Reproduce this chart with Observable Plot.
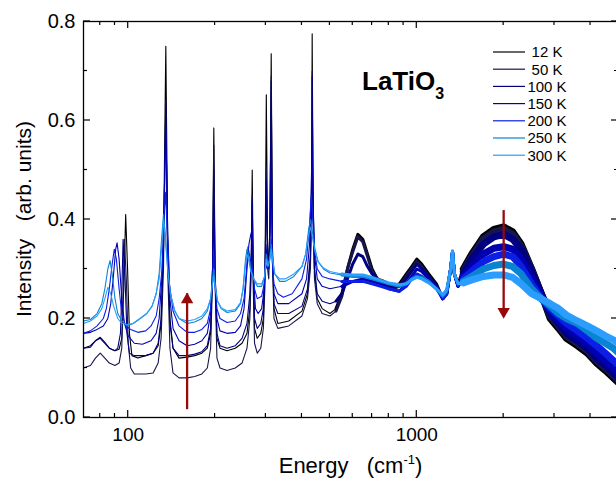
<!DOCTYPE html>
<html><head><meta charset="utf-8">
<script src="https://cdn.jsdelivr.net/npm/d3@7"></script>
<script src="https://cdn.jsdelivr.net/npm/@observablehq/plot@0.6"></script>
<style>
body{margin:0;background:#fff;font-family:"Liberation Sans",Arial,sans-serif;}
#chart{width:616px;height:481px;overflow:hidden}
</style></head><body><div id="chart"></div>
<script>
const temps = ["12 K","50 K","100 K","150 K","200 K","250 K","300 K"];
const colors = ["#000000","#16164c","#000080","#0000b0","#0a1ee6","#0a84d0","#2a9dff"];

const s12 = [[70,0.14],[74,0.145],[77,0.155],[80,0.162],[83,0.152],[86,0.14],[90,0.135],[93,0.138],[95,0.16],[96.5,0.26],[98,0.41],[99.5,0.30],[101,0.17],[103,0.125],[108,0.12],[115,0.125],[122,0.13],[127,0.145],[130,0.19],[132.5,0.34],[135,0.75],[137,0.36],[139.5,0.2],[143,0.14],[150,0.12],[160,0.122],[170,0.125],[180,0.13],[188,0.14],[193,0.17],[196,0.30],[198,0.585],[200,0.30],[203,0.16],[208,0.14],[220,0.135],[235,0.14],[248,0.15],[258,0.17],[264,0.22],[267,0.33],[269,0.50],[271,0.30],[274,0.18],[280,0.16],[288,0.17],[294,0.2],[298,0.3],[301,0.652],[304,0.35],[307,0.3],[310,0.4],[313,0.735],[316,0.35],[320,0.22],[330,0.19],[360,0.195],[400,0.215],[418,0.25],[428,0.32],[432,0.45],[434,0.775],[437,0.45],[442,0.3],[452,0.24],[470,0.22],[500,0.21],[525,0.22],[550,0.25],[575,0.3],[600,0.34],[625,0.37],[650,0.36],[675,0.33],[700,0.3],[730,0.28],[770,0.275],[820,0.265],[870,0.27],[920,0.29],[960,0.305],[1000,0.32],[1040,0.31],[1100,0.29],[1170,0.27],[1230,0.24],[1270,0.255],[1310,0.3],[1330,0.335],[1350,0.29],[1390,0.27],[1450,0.3],[1550,0.33],[1700,0.365],[1850,0.38],[2000,0.385],[2150,0.375],[2300,0.35],[2500,0.30],[2700,0.25],[2900,0.20],[3100,0.18],[3300,0.16],[3600,0.145],[3900,0.13],[4200,0.11],[4500,0.095],[4800,0.08],[5000,0.07]];

const s50 = [[70,0.10],[74,0.105],[77,0.12],[80,0.13],[83,0.12],[86,0.11],[90,0.105],[93,0.11],[95,0.14],[96,0.25],[97,0.36],[98.5,0.28],[100,0.15],[102,0.1],[105,0.088],[115,0.088],[122,0.09],[127,0.11],[130,0.16],[132.5,0.3],[135,0.64],[137,0.3],[139.5,0.14],[143,0.09],[150,0.08],[160,0.08],[170,0.083],[180,0.088],[188,0.1],[193,0.14],[196,0.28],[198,0.55],[200,0.27],[203,0.12],[208,0.1],[220,0.095],[235,0.1],[248,0.11],[258,0.14],[264,0.2],[267,0.3],[269,0.45],[271,0.27],[274,0.15],[280,0.13],[288,0.14],[294,0.18],[298,0.27],[301,0.51],[304,0.3],[307,0.28],[310,0.38],[313,0.69],[316,0.32],[320,0.2],[330,0.18],[360,0.185],[400,0.205],[418,0.24],[428,0.3],[432,0.42],[434,0.70],[437,0.42],[442,0.28],[452,0.23],[470,0.21],[500,0.205],[525,0.215],[550,0.245],[575,0.3],[600,0.335],[625,0.365],[650,0.355],[675,0.325],[700,0.295],[730,0.28],[770,0.27],[820,0.26],[870,0.265],[920,0.285],[960,0.3],[1000,0.315],[1040,0.305],[1100,0.285],[1170,0.265],[1230,0.24],[1270,0.25],[1310,0.3],[1330,0.335],[1350,0.29],[1390,0.265],[1450,0.295],[1550,0.325],[1700,0.36],[1850,0.375],[2000,0.38],[2150,0.37],[2300,0.345],[2500,0.30],[2700,0.25],[2900,0.205],[3100,0.185],[3300,0.165],[3600,0.15],[3900,0.135],[4200,0.115],[4500,0.1],[4800,0.085],[5000,0.075]];

const s100 = [[70,0.14],[74,0.142],[77,0.155],[80,0.16],[83,0.15],[86,0.14],[90,0.135],[92,0.14],[94,0.17],[95,0.25],[96,0.36],[97.5,0.28],[99,0.17],[101,0.13],[105,0.125],[115,0.125],[122,0.13],[127,0.15],[130,0.2],[132.5,0.34],[135,0.635],[137,0.33],[139.5,0.19],[143,0.14],[150,0.125],[160,0.125],[170,0.128],[180,0.133],[188,0.145],[193,0.18],[196,0.3],[198,0.50],[200,0.28],[203,0.17],[208,0.145],[220,0.14],[235,0.145],[248,0.16],[258,0.19],[264,0.25],[267,0.33],[269,0.44],[271,0.3],[274,0.2],[280,0.18],[288,0.19],[294,0.22],[298,0.3],[301,0.48],[304,0.32],[307,0.3],[310,0.4],[313,0.68],[316,0.34],[320,0.23],[330,0.21],[360,0.21],[400,0.225],[418,0.26],[428,0.33],[432,0.45],[434,0.69],[437,0.44],[442,0.3],[452,0.25],[470,0.235],[500,0.23],[525,0.235],[550,0.25],[575,0.28],[600,0.31],[625,0.33],[650,0.325],[675,0.305],[700,0.29],[730,0.28],[770,0.27],[820,0.262],[870,0.265],[920,0.28],[960,0.295],[1000,0.31],[1040,0.3],[1100,0.285],[1170,0.265],[1230,0.24],[1270,0.25],[1310,0.3],[1330,0.335],[1350,0.29],[1390,0.265],[1450,0.29],[1550,0.32],[1700,0.35],[1850,0.365],[2000,0.37],[2150,0.36],[2300,0.34],[2500,0.295],[2700,0.25],[2900,0.21],[3100,0.19],[3300,0.17],[3600,0.155],[3900,0.14],[4200,0.12],[4500,0.105],[4800,0.09],[5000,0.08]];

const s150 = [[70,0.17],[74,0.172],[78,0.178],[82,0.185],[85,0.2],[87,0.23],[89,0.29],[90.5,0.34],[91.5,0.353],[93,0.32],[95,0.24],[97,0.19],[100,0.165],[105,0.15],[112,0.148],[120,0.155],[125,0.17],[128,0.2],[131,0.29],[133,0.42],[135,0.59],[137,0.38],[139.5,0.24],[143,0.18],[150,0.155],[160,0.145],[170,0.148],[180,0.155],[188,0.17],[193,0.21],[196,0.3],[198,0.40],[200,0.29],[203,0.2],[208,0.175],[220,0.17],[235,0.172],[245,0.185],[252,0.22],[258,0.3],[262,0.35],[266,0.37],[269,0.38],[272,0.28],[276,0.22],[282,0.21],[290,0.22],[296,0.26],[300,0.35],[303,0.32],[307,0.31],[310,0.36],[313,0.50],[316,0.33],[320,0.25],[330,0.23],[360,0.23],[400,0.25],[415,0.28],[425,0.35],[430,0.45],[434,0.55],[437,0.44],[442,0.33],[452,0.28],[470,0.265],[500,0.26],[550,0.265],[600,0.275],[650,0.28],[700,0.275],[750,0.27],[800,0.26],[870,0.255],[920,0.27],[960,0.285],[1000,0.30],[1040,0.295],[1100,0.28],[1170,0.265],[1230,0.24],[1270,0.25],[1310,0.3],[1330,0.335],[1350,0.29],[1390,0.265],[1450,0.285],[1550,0.305],[1700,0.33],[1850,0.342],[2000,0.345],[2150,0.34],[2300,0.32],[2500,0.28],[2700,0.245],[2900,0.215],[3100,0.195],[3300,0.18],[3600,0.165],[3900,0.15],[4200,0.13],[4500,0.115],[4800,0.1],[5000,0.09]];

const s200 = [[70,0.17],[74,0.175],[78,0.185],[82,0.2],[84,0.22],[86,0.26],[88,0.31],[89.5,0.34],[91,0.32],[93,0.26],[95,0.21],[98,0.185],[102,0.178],[108,0.172],[115,0.175],[120,0.185],[125,0.205],[128,0.24],[131,0.3],[133,0.4],[134.5,0.455],[136.5,0.38],[139,0.27],[143,0.215],[150,0.185],[160,0.172],[170,0.172],[180,0.178],[188,0.19],[193,0.22],[196,0.27],[198,0.33],[200,0.27],[203,0.22],[208,0.2],[220,0.192],[235,0.195],[245,0.21],[252,0.24],[257,0.3],[260,0.345],[263,0.33],[267,0.31],[270,0.3],[274,0.26],[280,0.24],[290,0.245],[296,0.27],[300,0.31],[303,0.30],[308,0.31],[313,0.36],[316,0.31],[320,0.27],[330,0.25],[345,0.243],[370,0.25],[400,0.28],[415,0.32],[425,0.39],[431,0.45],[436,0.40],[442,0.34],[452,0.3],[470,0.285],[500,0.28],[550,0.275],[600,0.275],[650,0.275],[700,0.27],[750,0.265],[800,0.26],[870,0.255],[920,0.265],[960,0.28],[1000,0.29],[1040,0.285],[1100,0.275],[1170,0.26],[1230,0.24],[1270,0.25],[1310,0.3],[1330,0.335],[1350,0.29],[1390,0.265],[1450,0.28],[1550,0.295],[1700,0.315],[1850,0.325],[2000,0.33],[2150,0.325],[2300,0.305],[2500,0.27],[2700,0.24],[2900,0.22],[3100,0.205],[3300,0.19],[3600,0.175],[3900,0.16],[4200,0.145],[4500,0.13],[4800,0.115],[5000,0.105]];

const s250 = [[70,0.195],[74,0.198],[78,0.21],[81,0.23],[83,0.26],[85,0.3],[86.5,0.317],[88,0.29],[90,0.24],[92,0.21],[95,0.195],[99,0.185],[104,0.19],[110,0.2],[116,0.21],[121,0.225],[125,0.25],[128,0.29],[130.5,0.36],[132.5,0.41],[134.5,0.37],[137,0.3],[140,0.25],[145,0.215],[150,0.2],[160,0.19],[170,0.193],[180,0.2],[188,0.215],[193,0.24],[196,0.28],[198,0.30],[200,0.27],[204,0.235],[210,0.22],[220,0.212],[235,0.215],[245,0.23],[250,0.26],[255,0.32],[258,0.34],[261,0.33],[266,0.3],[272,0.28],[280,0.265],[290,0.265],[297,0.285],[301,0.33],[305,0.31],[309,0.32],[313,0.35],[317,0.32],[322,0.29],[335,0.275],[350,0.275],[375,0.285],[400,0.305],[412,0.33],[422,0.38],[429,0.40],[436,0.37],[444,0.34],[455,0.315],[475,0.3],[500,0.292],[550,0.288],[600,0.285],[650,0.285],[700,0.28],[750,0.275],[800,0.27],[870,0.265],[920,0.27],[960,0.28],[1000,0.285],[1040,0.283],[1100,0.275],[1170,0.26],[1230,0.245],[1270,0.255],[1310,0.3],[1330,0.335],[1350,0.29],[1390,0.27],[1450,0.275],[1550,0.285],[1700,0.3],[1850,0.307],[2000,0.31],[2150,0.305],[2300,0.29],[2500,0.26],[2700,0.24],[2900,0.225],[3100,0.21],[3300,0.2],[3600,0.19],[3900,0.175],[4200,0.16],[4500,0.15],[4800,0.14],[5000,0.13]];

const s300 = [[70,0.19],[74,0.195],[78,0.205],[81,0.22],[83,0.24],[85,0.263],[87,0.25],[89,0.225],[92,0.2],[95,0.19],[99,0.188],[104,0.19],[110,0.2],[116,0.21],[121,0.225],[125,0.25],[128,0.28],[130.5,0.34],[132.5,0.40],[134.5,0.36],[137,0.3],[140,0.25],[145,0.215],[150,0.2],[160,0.195],[170,0.198],[180,0.205],[188,0.22],[193,0.24],[196,0.27],[198,0.285],[200,0.265],[204,0.235],[210,0.222],[220,0.215],[235,0.218],[245,0.232],[250,0.26],[255,0.31],[258,0.33],[261,0.32],[266,0.295],[272,0.28],[280,0.27],[290,0.27],[297,0.285],[301,0.32],[305,0.305],[309,0.315],[313,0.34],[317,0.315],[322,0.29],[335,0.28],[350,0.28],[375,0.29],[400,0.305],[412,0.33],[422,0.37],[429,0.385],[436,0.36],[444,0.335],[455,0.315],[475,0.302],[500,0.295],[550,0.29],[600,0.288],[650,0.288],[700,0.283],[750,0.277],[800,0.272],[870,0.268],[920,0.27],[960,0.278],[1000,0.283],[1040,0.28],[1100,0.272],[1170,0.26],[1230,0.248],[1270,0.258],[1310,0.3],[1330,0.337],[1350,0.29],[1390,0.27],[1450,0.272],[1550,0.278],[1700,0.285],[1850,0.288],[2000,0.288],[2150,0.283],[2300,0.27],[2500,0.25],[2700,0.24],[2900,0.23],[3100,0.22],[3300,0.207],[3600,0.195],[3900,0.185],[4200,0.175],[4500,0.165],[4800,0.157],[5000,0.15]];

const xMajor = [100, 1000];
const xMinor = [80, 90, 200, 300, 400, 500, 600, 700, 800, 900, 2000, 3000, 4000, 5000];
const yMajor = [0, 0.2, 0.4, 0.6, 0.8];
const yMinor = [0.1, 0.3, 0.5, 0.7];
const arrowUp = [{x: 160, from: 0.032, to: 0.25}];
const arrowDown = [{x: 2000, from: 0.418, to: 0.202}];

const seriesList = [s12, s50, s100, s150, s200, s250, s300];
const data = seriesList.flatMap((s, i) => s.map(([e, v]) => ({e, v, t: temps[i]})));
const mid = data.filter(d => d.e >= 520);
const high = data.filter(d => d.e >= 1450);
const ARROW = "#960a0a";

const common = {x: "e", y: "v", z: "t", stroke: "t", strokeLinejoin: "round", strokeLinecap: "round"};

const W = 616, H = 481, mL = 83, mR = -2, mT = 21, mB = 64;

const plot = Plot.plot({
  width: W, height: H,
  marginLeft: mL, marginRight: mR, marginTop: mT, marginBottom: mB,
  x: {type: "log", domain: [70, 5000]},
  y: {domain: [0, 0.8]},
  color: {domain: temps, range: colors},
  style: {fontFamily: "Liberation Sans, Arial, sans-serif", fontSize: "19px", color: "#000", background: "#fff"},
  marks: [
    Plot.line(data, {...common, strokeWidth: 1.1}),
    Plot.line(mid, {...common, strokeWidth: 3}),
    Plot.line(high, {...common, strokeWidth: 7}),
    Plot.ruleX(arrowUp, {x: "x", y1: "from", y2: "to", stroke: ARROW, strokeWidth: 2.3, insetTop: 8}),
    Plot.dot(arrowUp, {x: "x", y: "to", symbol: "triangle", r: 4.6, fill: ARROW, stroke: "none", dy: 6}),
    Plot.ruleX(arrowDown, {x: "x", y1: "from", y2: "to", stroke: ARROW, strokeWidth: 2.3, insetBottom: 8}),
    Plot.dot(arrowDown, {x: "x", y: "to", symbol: "triangle", rotate: 180, r: 4.6, fill: ARROW, stroke: "none", dy: -6}),
    Plot.frame({stroke: "#000", strokeWidth: 1.3}),
    Plot.axisX({anchor: "bottom", ticks: xMajor, tickSize: 0, tickPadding: 10, tickFormat: d => String(d), label: null, fontSize: 19}),
    Plot.axisY({anchor: "left", ticks: yMajor, tickSize: 0, tickPadding: 8, tickFormat: d3.format(".1f"), label: null, fontSize: 20})
  ]
});
document.getElementById("chart").appendChild(plot);

const svg = d3.select(plot);
const xs = plot.scale("x"), ys = plot.scale("y");
const pL = mL, pR = W - mR, pT = mT, pB = H - mB;
// inward tick marks on all four sides
const tg = svg.append("g").attr("stroke", "#000").attr("stroke-width", 1.2);
const tickX = (v, len) => {
  const px = xs.apply(v);
  tg.append("line").attr("x1", px).attr("x2", px).attr("y1", pB).attr("y2", pB - len);
  tg.append("line").attr("x1", px).attr("x2", px).attr("y1", pT).attr("y2", pT + len);
};
const tickY = (v, len) => {
  const py = ys.apply(v);
  tg.append("line").attr("x1", pL).attr("x2", pL + len).attr("y1", py).attr("y2", py);
  tg.append("line").attr("x1", pR).attr("x2", pR - len).attr("y1", py).attr("y2", py);
};
xMajor.forEach(v => tickX(v, 7));
xMinor.forEach(v => tickX(v, 4));
yMajor.forEach(v => tickY(v, 7));
yMinor.forEach(v => tickY(v, 4));

const cx = (pL + pR) / 2, cy = (pT + pB) / 2;
// axis titles
const xt = svg.append("text").attr("x", cx).attr("y", 473).attr("text-anchor", "middle").attr("font-size", 22).attr("fill", "#000");
xt.append("tspan").text("Energy\u00a0\u00a0\u00a0(cm");
xt.append("tspan").attr("font-size", 13).attr("dy", -9).text("-1");
xt.append("tspan").attr("dy", 9).text(")");
svg.append("text").attr("transform", `translate(31,${cy}) rotate(-90)`).attr("text-anchor", "middle")
  .attr("font-size", 21).attr("fill", "#000").text("Intensity\u00a0\u00a0\u00a0(arb. units)");
// title
const tt = svg.append("text").attr("x", 362).attr("y", 90).attr("text-anchor", "start").attr("font-size", 26).attr("font-weight", "bold").attr("fill", "#000");
tt.append("tspan").text("LaTiO");
tt.append("tspan").attr("font-size", 16).attr("dy", 9).text("3");
// legend
const lg = svg.append("g");
temps.forEach((t, i) => {
  const y = 52 + i * 17.2;
  lg.append("line").attr("x1", 493).attr("x2", 525).attr("y1", y).attr("y2", y).attr("stroke", colors[i]).attr("stroke-width", 1.2);
  lg.append("text").attr("x", 547).attr("y", y).attr("dy", "0.36em").attr("text-anchor", "middle").attr("font-size", 15).attr("fill", "#000").text(t);
});
</script></body></html>
